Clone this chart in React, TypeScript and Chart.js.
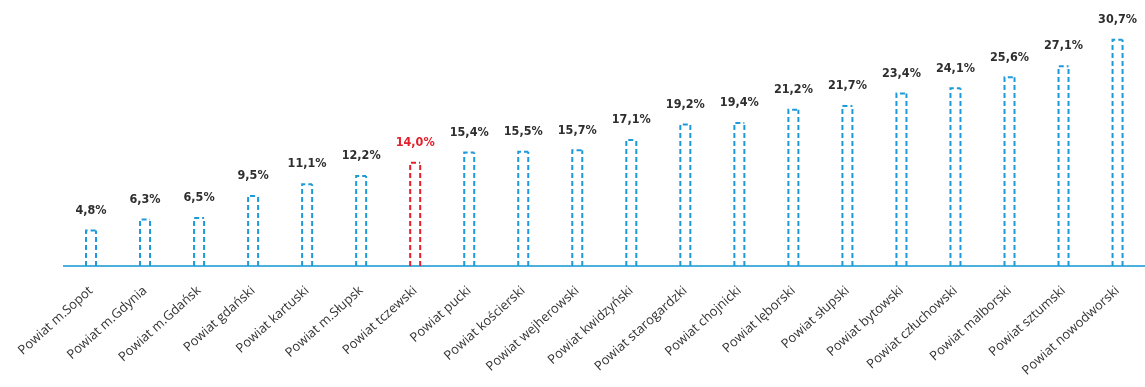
import React, { useEffect, useRef } from "react";
import { Chart, registerables } from "chart.js";

Chart.register(...registerables);

const categories = [
  "Powiat m.Sopot",
  "Powiat m.Gdynia",
  "Powiat m.Gdańsk",
  "Powiat gdański",
  "Powiat kartuski",
  "Powiat m.Słupsk",
  "Powiat tczewski",
  "Powiat pucki",
  "Powiat kościerski",
  "Powiat wejherowski",
  "Powiat kwidzyński",
  "Powiat starogardzki",
  "Powiat chojnicki",
  "Powiat lęborski",
  "Powiat słupski",
  "Powiat bytowski",
  "Powiat człuchowski",
  "Powiat malborski",
  "Powiat sztumski",
  "Powiat nowodworski",
];

const values = [4.8, 6.3, 6.5, 9.5, 11.1, 12.2, 14.0, 15.4, 15.5, 15.7, 17.1, 19.2, 19.4, 21.2, 21.7, 23.4, 24.1, 25.6, 27.1, 30.7];

const highlightIndex = 6;

const BLUE = "#1f9ad9";
const RED = "#e3202b";
const AXIS = "#4bb0e0";
const TEXT = "#2e2e2e";

const fmt = (v: number) => v.toFixed(1).replace(".", ",") + "%";

const dashedBars = {
  id: "dashedBars",
  afterDatasetsDraw(chart: any) {
    const ctx = chart.ctx;
    const meta = chart.getDatasetMeta(0);
    meta.data.forEach((bar: any, i: number) => {
      const { x, y, base, width } = bar.getProps(["x", "y", "base", "width"], true);
      const l = x - width / 2 + 1;
      const r = x + width / 2 - 1;
      const color = i === highlightIndex ? RED : BLUE;
      ctx.save();
      ctx.strokeStyle = color;
      ctx.lineWidth = 2;
      ctx.setLineDash([5, 3]);
      ctx.beginPath();
      ctx.moveTo(l, base);
      ctx.lineTo(l, y);
      ctx.lineTo(r, y);
      ctx.stroke();
      ctx.beginPath();
      ctx.moveTo(r, base);
      ctx.lineTo(r, y);
      ctx.stroke();
      ctx.restore();

      ctx.save();
      ctx.fillStyle = i === highlightIndex ? RED : TEXT;
      ctx.font = "bold 12.5px 'DejaVu Sans Condensed', 'DejaVu Sans'";
      ctx.textAlign = "center";
      ctx.textBaseline = "middle";
      ctx.fillText(fmt(values[i]), x, y - 20);
      ctx.restore();
    });
  },
};

export default function App() {
  const ref = useRef<HTMLCanvasElement>(null);
  useEffect(() => {
    if (!ref.current) return;
    const chart = new Chart(ref.current, {
      type: "bar",
      data: {
        labels: categories,
        datasets: [
          {
            data: values,
            backgroundColor: "rgba(0,0,0,0)",
            borderWidth: 0,
            barThickness: 12,
          },
        ],
      },
      options: {
        animation: false,
        responsive: false,
        maintainAspectRatio: false,
        layout: { padding: { left: 64, right: 0, top: 8, bottom: 0 } },
        plugins: { legend: { display: false }, tooltip: { enabled: false } },
        scales: {
          y: { display: false, min: 0, max: 35 },
          x: {
            grid: { display: false, drawTicks: false },
            border: { display: true, color: AXIS, width: 2 },
            afterFit: (s: any) => {
              s.height = 121;
            },
            ticks: {
              autoSkip: false,
              maxRotation: 42,
              minRotation: 42,
              padding: 17,
              color: "#333333",
              font: { family: "'Open Sans'", size: 13 },
            },
          },
        },
      },
      plugins: [dashedBars],
    });
    return () => chart.destroy();
  }, []);
  return (
    <div style={{ position: "absolute", left: 0, top: 0, width: 1145, height: 387, background: "#fff" }}>
      <canvas ref={ref} width={1145} height={387} style={{ display: "block" }} />
    </div>
  );
}
